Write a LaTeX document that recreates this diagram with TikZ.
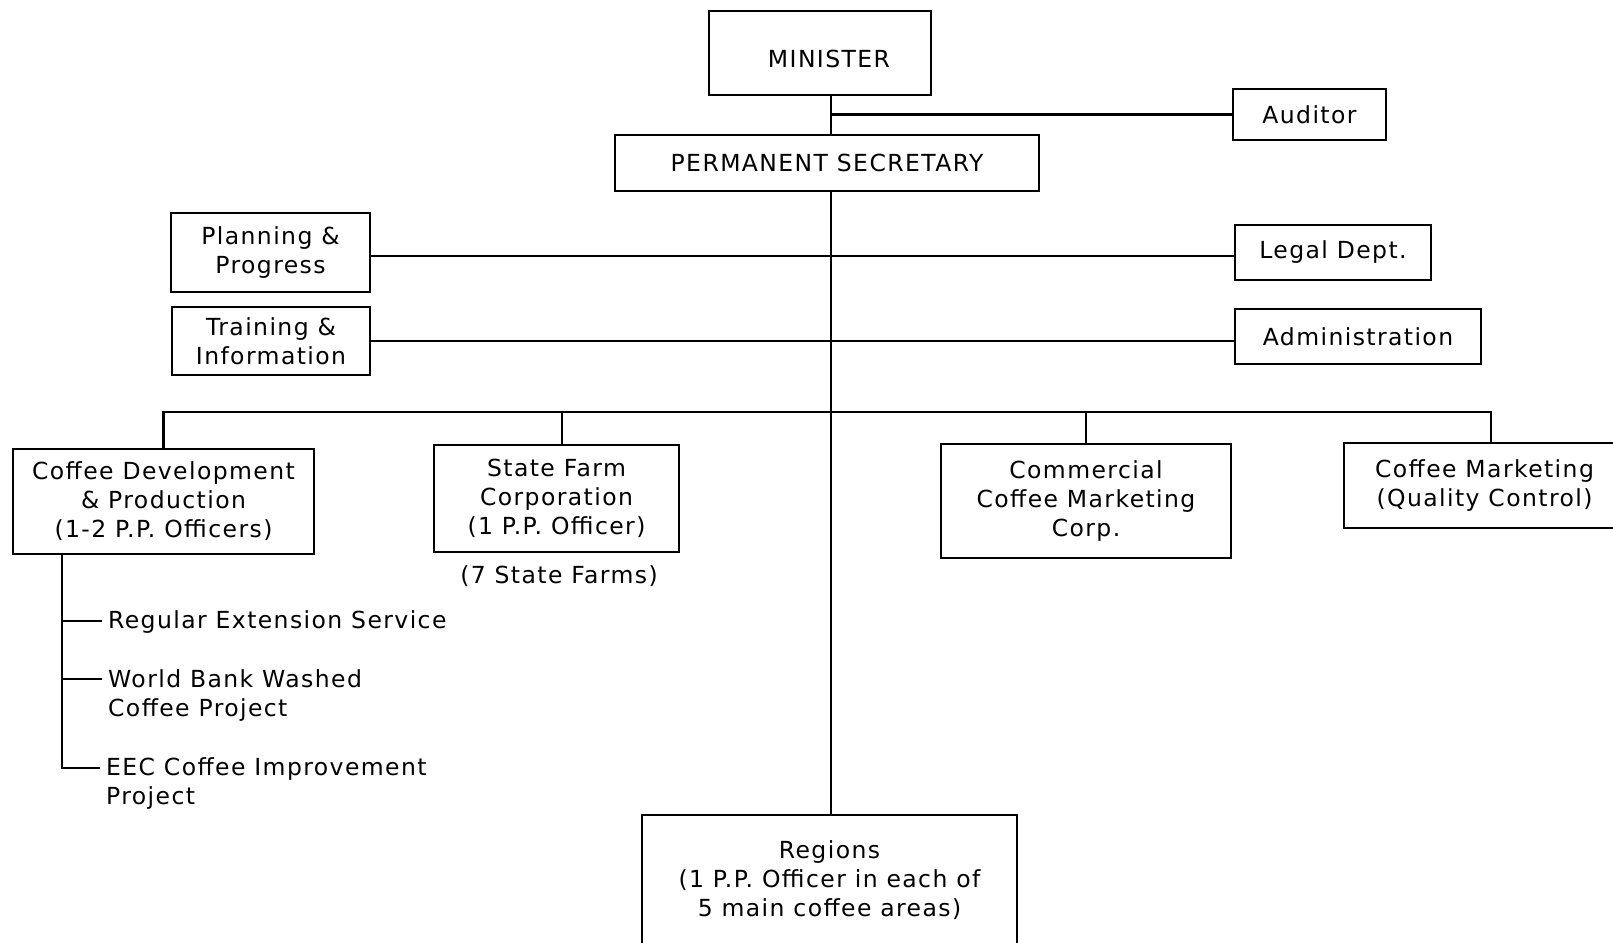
\documentclass[tikz,border=0pt]{standalone}
\usepackage{fontspec}
\setmainfont[LetterSpace=6]{DejaVu Sans}
\begin{document}
\begin{tikzpicture}[x=1pt,y=-1pt,
  box/.style={draw, line width=2.3pt, inner sep=0pt, align=center, font=\fontsize{23.5}{29}\selectfont},
  lbl/.style={inner sep=0pt, align=left, font=\fontsize{23.5}{29}\selectfont},
  conn/.style={line width=2.2pt}]
\clip (0,0) rectangle (1613,942);
\fill[white] (0,0) rectangle (1613,942);
% coordinates for connector lines
\coordinate (sx) at (831,0);
\coordinate (busy) at (0,412);
\coordinate (ppy) at (0,256);
\coordinate (sfx) at (562,0);
\coordinate (cmqx) at (1491,0);
\coordinate (tx) at (62,0);
\coordinate (t1) at (0,621);
\coordinate (t2) at (0,679);
\coordinate (t3) at (0,768);
% boxes
\node[box, minimum width=222pt, minimum height=84pt] (min) at (820,53) {};
\node[lbl] (mint) at (829,59) {MINISTER};
\node[box, minimum width=153pt, minimum height=51pt] (aud) at (1309.5,114.5) {Auditor};
\node[box, minimum width=424pt, minimum height=56pt] (ps) at (827,163) {PERMANENT SECRETARY};
\node[box, minimum width=199pt, minimum height=79pt] (pp) at (270.5,252.5) {Planning \&\\Progress};
\node[box, minimum width=196pt, minimum height=55pt] (legal) at (1333,252.5) {Legal Dept.};
\node[box, minimum width=198pt, minimum height=68pt] (ti) at (271,341) {Training \&\\Information};
\node[box, minimum width=246pt, minimum height=55pt] (adm) at (1358,336.5) {Administration};
\node[box, minimum width=301pt, minimum height=105pt] (cd) at (163.5,501.5) {Coffee Development\\\& Production\\(1-2 P.P. Officers)};
\node[box, minimum width=245pt, minimum height=107pt] (sf) at (556.5,498.5) {State Farm\\Corporation\\(1 P.P. Officer)};
\node[lbl, align=center] (sfn) at (559,576) {(7 State Farms)};
\node[box, minimum width=290pt, minimum height=114pt] (ccm) at (1086,501) {Commercial\\Coffee Marketing\\Corp.};
\node[box, minimum width=281pt, minimum height=85pt] (cmq) at (1484.5,485.5) {Coffee Marketing\\(Quality Control)};
\node[box, minimum width=375pt, minimum height=130pt] (reg) at (829.5,880) {Regions\\(1 P.P. Officer in each of\\5 main coffee areas)};
% sub-units of Coffee Development
\node[lbl, anchor=west] (r1) at (108,622) {Regular Extension Service};
\node[lbl, anchor=west] (r2) at (108,696) {World Bank Washed\\Coffee Project};
\node[lbl, anchor=west] (r3) at (106,784) {EEC Coffee Improvement\\Project};
% connectors
\draw[conn] (min.south -| sx) -- (ps.north -| sx);
\draw[conn] (aud.west) -- (aud.west -| sx);
\draw[conn] (ps.south -| sx) -- (reg.north -| sx);
\draw[conn] (pp.east |- ppy) -- (legal.west |- ppy);
\draw[conn] (ti.east) -- (ti.east -| adm.west);
\draw[conn] (cd.north) -- (cd.north |- busy) -- (cmqx |- busy) -- (cmq.north -| cmqx);
\draw[conn] (sfx |- busy) -- (sf.north -| sfx);
\draw[conn] (ccm.north |- busy) -- (ccm.north);
\draw[conn] (cd.south -| tx) -- (tx |- t3) -- ([xshift=-6pt]r3.west |- t3);
\draw[conn] (tx |- t1) -- ([xshift=-6pt]r1.west |- t1);
\draw[conn] (tx |- t2) -- ([xshift=-6pt]r2.west |- t2);
\end{tikzpicture}
\end{document}
